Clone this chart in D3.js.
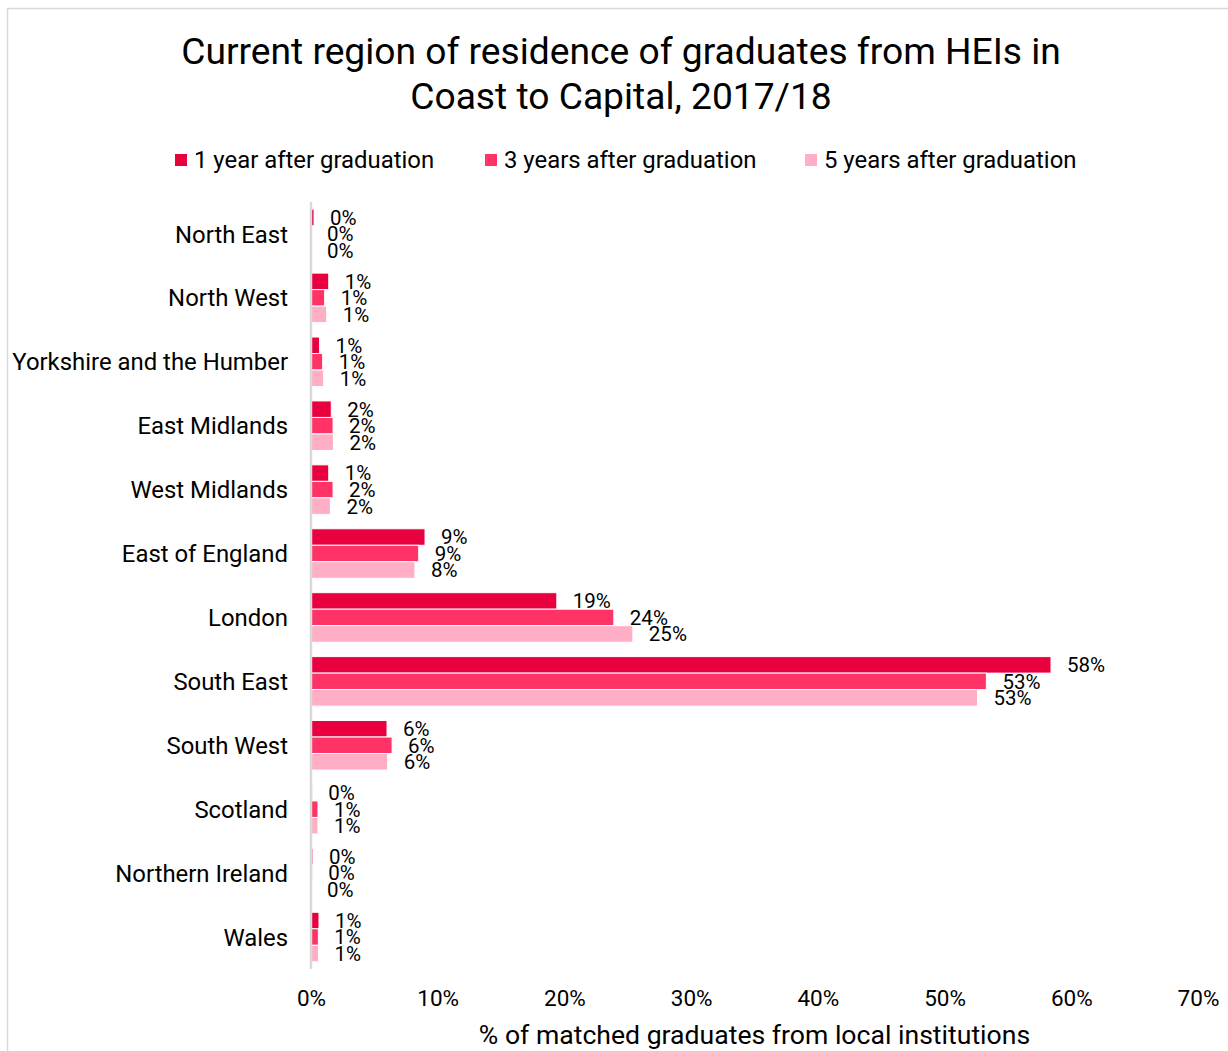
<!DOCTYPE html>
<html>
<head>
<meta charset="utf-8">
<script src="https://cdn.jsdelivr.net/npm/d3@7"></script>
<style>
  html, body { margin: 0; padding: 0; background: #fff; }
  svg { display: block; font-family: Roboto, "Noto Sans", sans-serif; }
</style>
</head>
<body>
<svg id="chart" width="1228" height="1051"></svg>
<script>
// Regions, top to bottom
const regions = [
  "North East", "North West", "Yorkshire and the Humber", "East Midlands",
  "West Midlands", "East of England", "London", "South East",
  "South West", "Scotland", "Northern Ireland", "Wales"
];

// Series names (legend order)
const seriesNames = [
  "1 year after graduation",
  "3 years after graduation",
  "5 years after graduation"
];

// Share of matched graduates (fraction), one array per series
const oneYear   = [0.0024, 0.014, 0.0068, 0.016, 0.014, 0.090, 0.194, 0.584, 0.060, 0.0010, 0.0015, 0.0063];
const threeYear = [0.0000, 0.0108, 0.0092, 0.0174, 0.0174, 0.085, 0.239, 0.533, 0.064, 0.0055, 0.0010, 0.0058];
const fiveYear  = [0.0000, 0.0124, 0.0100, 0.0177, 0.0153, 0.082, 0.254, 0.526, 0.0605, 0.0055, 0.0000, 0.0060];

const seriesValues = [oneYear, threeYear, fiveYear];
const seriesColors = ["#E8003F", "#FF3366", "#FFAEC6"];

const xTicks = [0, 0.1, 0.2, 0.3, 0.4, 0.5, 0.6, 0.7];

const svg = d3.select("#chart");

// Outer chart frame
svg.append("rect")
  .attr("x", 7.5).attr("y", 8.5)
  .attr("width", 1300).attr("height", 1100)
  .attr("fill", "none").attr("stroke", "#d9d9d9").attr("stroke-width", 1.5);

// Title
const title = svg.append("text")
  .attr("text-anchor", "middle")
  .attr("font-size", 37.2)
  .attr("fill", "#000");
title.append("tspan").attr("x", 621).attr("y", 64)
  .text("Current region of residence of graduates from HEIs in");
title.append("tspan").attr("x", 621).attr("y", 109)
  .text("Coast to Capital, 2017/18");

// Scales
const x = d3.scaleLinear().domain([0, 0.7]).range([311, 1198]);
const y = d3.scaleBand().domain(regions).range([202, 969]).paddingInner(0.225).paddingOuter(0.1125);
const ySub = d3.scaleBand().domain(d3.range(seriesNames.length)).range([0, y.bandwidth()]);

// Legend
const legendX = [175, 485, 805];
const legend = svg.append("g");
seriesNames.forEach((name, i) => {
  legend.append("rect")
    .attr("x", legendX[i]).attr("y", 154)
    .attr("width", 12).attr("height", 12)
    .attr("fill", seriesColors[i]);
  legend.append("text")
    .attr("x", legendX[i] + 19).attr("y", 168)
    .attr("font-size", 23.9).attr("fill", "#000")
    .text(name);
});

// Bars and value labels
const fmt = d3.format(".0%");
const groups = svg.append("g").selectAll("g")
  .data(regions)
  .join("g")
  .attr("transform", d => `translate(0,${y(d)})`);

seriesValues.forEach((vals, s) => {
  groups.append("rect")
    .attr("x", x(0))
    .attr("y", ySub(s))
    .attr("width", (d, i) => Math.max(0, x(vals[i]) - x(0)))
    .attr("height", ySub.bandwidth())
    .attr("fill", seriesColors[s])
    .attr("stroke", "#fff")
    .attr("stroke-width", 1);
});

seriesValues.forEach((vals, s) => {
  groups.append("text")
    .attr("x", (d, i) => x(vals[i]) + 16)
    .attr("y", ySub(s) + ySub.bandwidth() / 2)
    .attr("dy", "0.36em")
    .attr("font-size", 20.5)
    .attr("fill", "#000")
    .text((d, i) => fmt(vals[i]));
});

// Vertical category axis line
svg.append("line")
  .attr("x1", x(0)).attr("x2", x(0))
  .attr("y1", 202).attr("y2", 969)
  .attr("stroke", "#d9d9d9").attr("stroke-width", 2.5);

// Category labels
svg.append("g").selectAll("text")
  .data(regions)
  .join("text")
  .attr("x", 288)
  .attr("y", d => y(d) + y.bandwidth() / 2)
  .attr("dy", "0.36em")
  .attr("text-anchor", "end")
  .attr("font-size", 23.9)
  .attr("fill", "#000")
  .text(d => d);

// X tick labels
const xAxis = d3.axisBottom(x).tickValues(xTicks).tickFormat(d3.format(".0%")).tickSize(0).tickPadding(0);
const gx = svg.append("g").attr("transform", "translate(0,990)").call(xAxis);
gx.select(".domain").remove();
gx.selectAll("text")
  .attr("font-size", 22.5)
  .attr("font-family", "Roboto, 'Noto Sans', sans-serif")
  .attr("fill", "#000")
  .attr("dy", "0.71em");

// X axis title
svg.append("text")
  .attr("x", (x.range()[0] + x.range()[1]) / 2)
  .attr("y", 1044)
  .attr("text-anchor", "middle")
  .attr("font-size", 26.6)
  .attr("fill", "#000")
  .text("% of matched graduates from local institutions");
</script>
</body>
</html>
